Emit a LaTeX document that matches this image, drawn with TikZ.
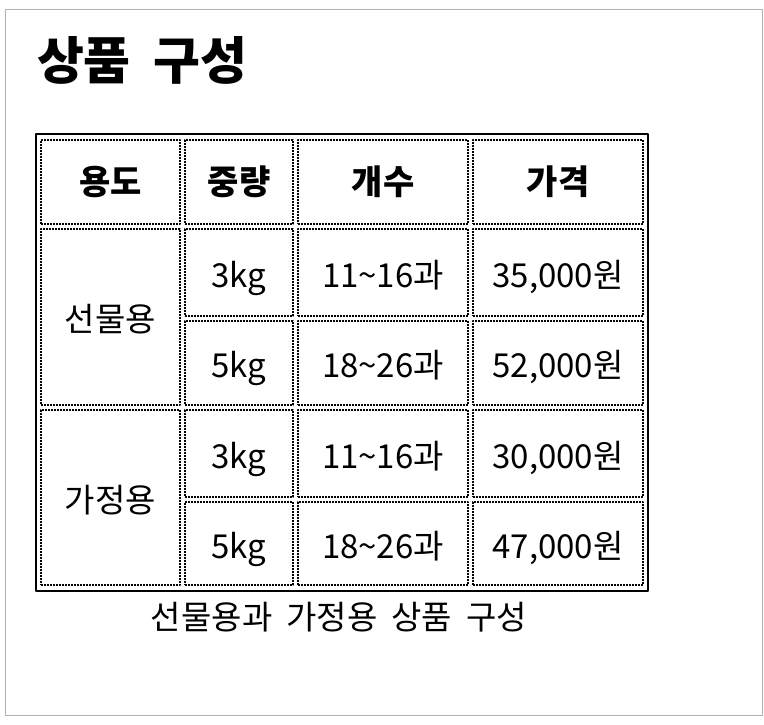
\documentclass[tikz,border=0pt]{standalone}
\usepackage{fontspec}
\setmainfont{Noto Sans CJK KR}[WordSpace=1.9]

\begin{document}
\begin{tikzpicture}[x=1pt, y=-1pt, line cap=butt, line join=round,
	cell/.style={draw, line width=1.6pt, dash pattern=on 1.6pt off 1.4pt, inner sep=0pt},
	body/.style={cell, label={[font=\fontsize{33}{37}\selectfont, text height=0.86em,
		text depth=0.14em, yshift=-11pt]center:#1}},
	head/.style={cell, font=\fontsize{34}{38}\selectfont\bfseries}]
\useasboundingbox (0,0) rectangle (764,724);
%========================
% page frame and title
%========================
\draw[gray!60, line width=0.8pt] (5,9) rectangle (762,715);
\node[font=\fontsize{51}{57}\selectfont\bfseries] (title) at (142,60) {상품 구성};

%========================
% table
%========================
\draw[line width=2pt] (36,134) rectangle (648,591);
% header row
\node[head, minimum width=139pt, minimum height=84pt] (use) at (110.5,182) {용도};
\node[head, minimum width=108pt, minimum height=84pt] (wgt) at (239,182) {중량};
\node[head, minimum width=170pt, minimum height=84pt] (cnt) at (383,182) {개수};
\node[head, minimum width=170pt, minimum height=84pt] (prc) at (558,182) {가격};

% gift rows
\node[body=선물용, minimum width=139pt, minimum height=176pt] (gift) at (110.5,317) {};
\node[body=3kg, minimum width=108pt, minimum height=87pt] (gw1) at (239,272.5) {};
\node[body=11\textasciitilde16과, minimum width=170pt, minimum height=87pt] (gc1) at (383,272.5) {};
\node[body={35,000원}, minimum width=170pt, minimum height=87pt] (gp1) at (558,272.5) {};
\node[body=5kg, minimum width=108pt, minimum height=84pt] (gw2) at (239,363) {};
\node[body=18\textasciitilde26과, minimum width=170pt, minimum height=84pt] (gc2) at (383,363) {};
\node[body={52,000원}, minimum width=170pt, minimum height=84pt] (gp2) at (558,363) {};

% home rows
\node[body=가정용, minimum width=139pt, minimum height=175pt] (home) at (110.5,497.5) {};
\node[body=3kg, minimum width=108pt, minimum height=87pt] (hw1) at (239,453.5) {};
\node[body=11\textasciitilde16과, minimum width=170pt, minimum height=87pt] (hc1) at (383,453.5) {};
\node[body={30,000원}, minimum width=170pt, minimum height=87pt] (hp1) at (558,453.5) {};
\node[body=5kg, minimum width=108pt, minimum height=83pt] (hw2) at (239,543.5) {};
\node[body=18\textasciitilde26과, minimum width=170pt, minimum height=83pt] (hc2) at (383,543.5) {};
\node[body={47,000원}, minimum width=170pt, minimum height=83pt] (hp2) at (558,543.5) {};

% caption
\node[font=\fontsize{33}{37}\selectfont] (cap) at (339,617) {선물용과 가정용 상품 구성};
\end{tikzpicture}
\end{document}
